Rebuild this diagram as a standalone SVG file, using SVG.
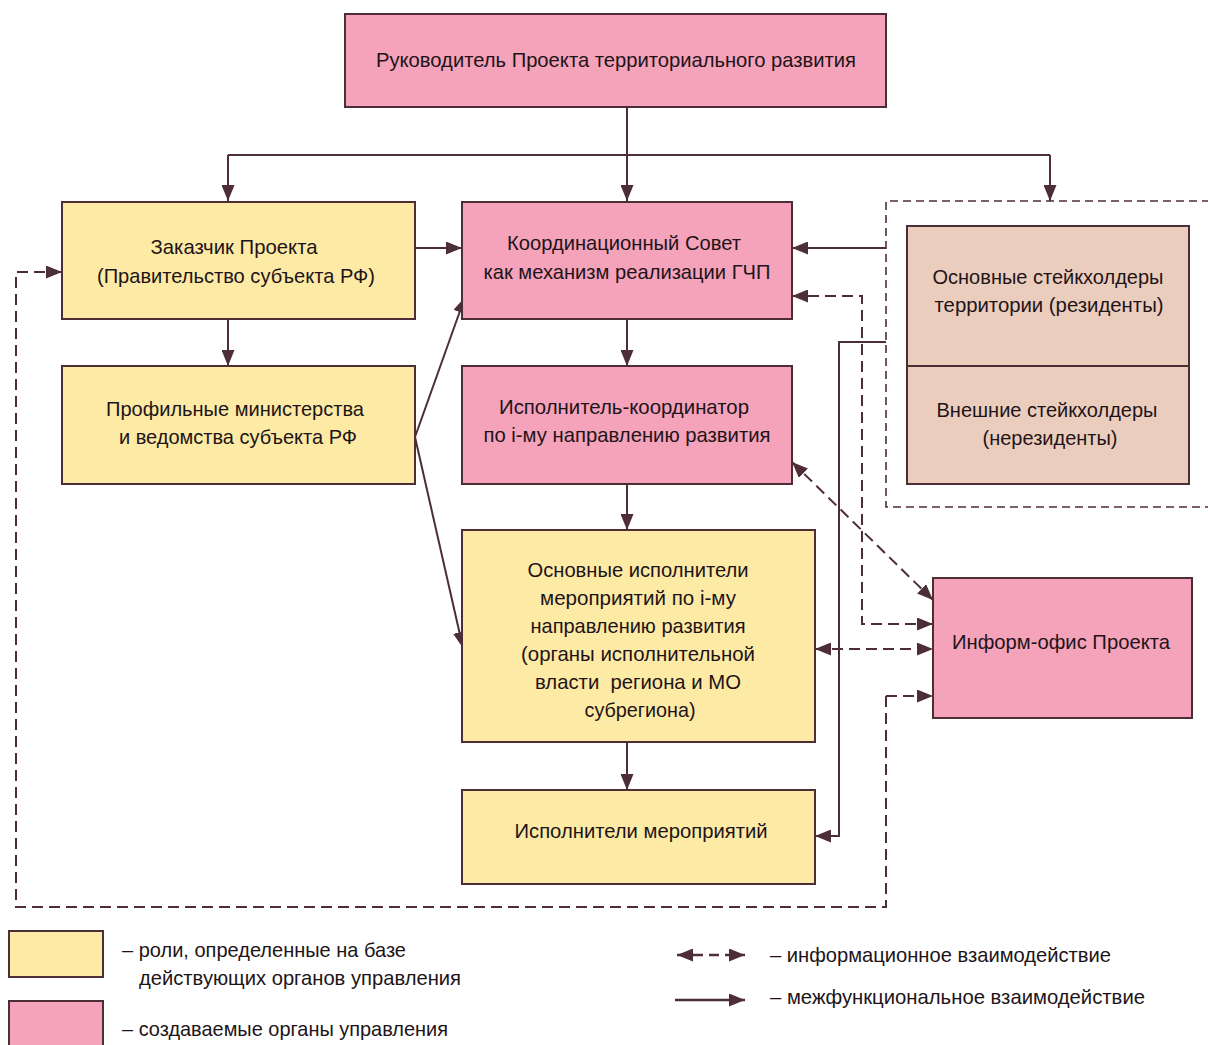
<svg xmlns="http://www.w3.org/2000/svg" width="1208" height="1045" viewBox="0 0 1208 1045">
<style>
.pink{fill:#f5a2bb;stroke:#4d2e36;stroke-width:2}
.yel{fill:#fdeaa5;stroke:#4d2e36;stroke-width:2}
.beige{fill:#ebcdbd;stroke:#4d2e36;stroke-width:2}
.t{font-family:"Liberation Sans",Arial,sans-serif;font-size:21px;fill:#1e1418;text-anchor:middle}
.l{font-family:"Liberation Sans",Arial,sans-serif;font-size:21px;fill:#1e1418}
.s{fill:none;stroke:#4d2e36;stroke-width:2}
.d{fill:none;stroke:#4d2e36;stroke-width:2;stroke-dasharray:11,6}
.g{fill:none;stroke:#4d2e36;stroke-width:1.6;stroke-dasharray:8,5}
</style>
<defs>
<marker id="a" viewBox="0 0 16 13" refX="16" refY="6.5" markerWidth="16" markerHeight="13" markerUnits="userSpaceOnUse" orient="auto-start-reverse">
<path d="M0,0 L16,6.5 L0,13 z" fill="#4d2e36" stroke="none"/>
</marker>
</defs>
<rect width="1208" height="1045" fill="#ffffff"/>

<g id="connectors">
<path class="s" d="M627,107 V201" marker-end="url(#a)"/>
<path class="s" d="M228,155 H1050"/>
<path class="s" d="M228,155 V201" marker-end="url(#a)"/>
<path class="s" d="M1050,155 V201" marker-end="url(#a)"/>
<path class="s" d="M415,248 H462" marker-end="url(#a)"/>
<path class="s" d="M228,319 V366" marker-end="url(#a)"/>
<path class="s" d="M627,319 V366" marker-end="url(#a)"/>
<path class="s" d="M627,484 V530" marker-end="url(#a)"/>
<path class="s" d="M627,742 V790" marker-end="url(#a)"/>
<path class="s" d="M415,437 L465,297" marker-end="url(#a)"/>
<path class="s" d="M415,437 L463,648" marker-end="url(#a)"/>
<path class="s" d="M886,248 H792" marker-end="url(#a)"/>
<path class="s" d="M886,342 H839 V836 H815" marker-end="url(#a)"/>
<path class="d" d="M933,624 H862 V296 H792" marker-start="url(#a)" marker-end="url(#a)"/>
<path class="d" d="M815,649 H933" marker-start="url(#a)" marker-end="url(#a)"/>
<path class="d" d="M792,462 L933,600" marker-start="url(#a)" marker-end="url(#a)"/>
<path class="d" d="M886,696 V907 H16 V272 H62" marker-end="url(#a)"/>
<path class="d" d="M886,696 H933" marker-end="url(#a)"/>
</g>

<g id="stakeholders-group">
<path class="g" d="M1210,201 H886 V507 H1210"/>
</g>

<g id="head">
<rect class="pink" x="345" y="14" width="541" height="93"/>
<text class="t" x="616" y="67" textLength="480" lengthAdjust="spacingAndGlyphs">Руководитель Проекта территориального развития</text>
</g>

<g id="customer">
<rect class="yel" x="62" y="202" width="353" height="117"/>
<text class="t" x="234" y="254" textLength="167" lengthAdjust="spacingAndGlyphs">Заказчик Проекта</text>
<text class="t" x="236" y="283" textLength="278" lengthAdjust="spacingAndGlyphs">(Правительство субъекта РФ)</text>
</g>

<g id="council">
<rect class="pink" x="462" y="202" width="330" height="117"/>
<text class="t" x="624" y="250" textLength="234" lengthAdjust="spacingAndGlyphs">Координационный Совет</text>
<text class="t" x="627" y="279" textLength="287" lengthAdjust="spacingAndGlyphs">как механизм реализации ГЧП</text>
</g>

<g id="ministries">
<rect class="yel" x="62" y="366" width="353" height="118"/>
<text class="t" x="235" y="416" textLength="258" lengthAdjust="spacingAndGlyphs">Профильные министерства</text>
<text class="t" x="238" y="444" textLength="238" lengthAdjust="spacingAndGlyphs">и ведомства субъекта РФ</text>
</g>

<g id="coordinator">
<rect class="pink" x="462" y="366" width="330" height="118"/>
<text class="t" x="624" y="414" textLength="250" lengthAdjust="spacingAndGlyphs">Исполнитель-координатор</text>
<text class="t" x="627" y="442" textLength="287" lengthAdjust="spacingAndGlyphs">по i-му направлению развития</text>
</g>

<g id="main-executors">
<rect class="yel" x="462" y="530" width="353" height="212"/>
<text class="t" x="638" y="577" textLength="221" lengthAdjust="spacingAndGlyphs">Основные исполнители</text>
<text class="t" x="638" y="605" textLength="196" lengthAdjust="spacingAndGlyphs">мероприятий по i-му</text>
<text class="t" x="638" y="633" textLength="215" lengthAdjust="spacingAndGlyphs">направлению развития</text>
<text class="t" x="638" y="661" textLength="234" lengthAdjust="spacingAndGlyphs">(органы исполнительной</text>
<text class="t" x="638" y="689" textLength="206" lengthAdjust="spacingAndGlyphs" xml:space="preserve">власти  региона и МО</text>
<text class="t" x="640" y="717" textLength="111" lengthAdjust="spacingAndGlyphs">субрегиона)</text>
</g>

<g id="executors">
<rect class="yel" x="462" y="790" width="353" height="94"/>
<text class="t" x="641" y="838" textLength="253" lengthAdjust="spacingAndGlyphs">Исполнители мероприятий</text>
</g>

<g id="stakeholders">
<rect class="beige" x="907" y="226" width="282" height="140"/>
<rect class="beige" x="907" y="366" width="282" height="118"/>
<text class="t" x="1048" y="284" textLength="231" lengthAdjust="spacingAndGlyphs">Основные стейкхолдеры</text>
<text class="t" x="1049" y="312" textLength="229" lengthAdjust="spacingAndGlyphs">территории (резиденты)</text>
<text class="t" x="1047" y="417" textLength="221" lengthAdjust="spacingAndGlyphs">Внешние стейкхолдеры</text>
<text class="t" x="1050" y="445" textLength="135" lengthAdjust="spacingAndGlyphs">(нерезиденты)</text>
</g>

<g id="info-office">
<rect class="pink" x="933" y="578" width="259" height="140"/>
<text class="t" x="1061" y="649" textLength="218" lengthAdjust="spacingAndGlyphs">Информ-офис Проекта</text>
</g>

<g id="legend">
<rect class="yel" x="9" y="931" width="94" height="46"/>
<rect class="pink" x="9" y="1001" width="94" height="50"/>
<text class="l" x="122" y="957" textLength="284" lengthAdjust="spacingAndGlyphs">– роли, определенные на базе</text>
<text class="l" x="139" y="985" textLength="322" lengthAdjust="spacingAndGlyphs">действующих органов управления</text>
<text class="l" x="122" y="1036" textLength="326" lengthAdjust="spacingAndGlyphs">– создаваемые органы управления</text>
<path class="d" style="stroke-width:2.6;stroke-dasharray:10,6" d="M677,955 H745" marker-start="url(#a)" marker-end="url(#a)"/>
<path class="s" style="stroke-width:2.6" d="M675,1000 H745" marker-end="url(#a)"/>
<text class="l" x="770" y="962" textLength="341" lengthAdjust="spacingAndGlyphs">– информационное взаимодействие</text>
<text class="l" x="770" y="1004" textLength="375" lengthAdjust="spacingAndGlyphs">– межфункциональное взаимодействие</text>
</g>
</svg>
